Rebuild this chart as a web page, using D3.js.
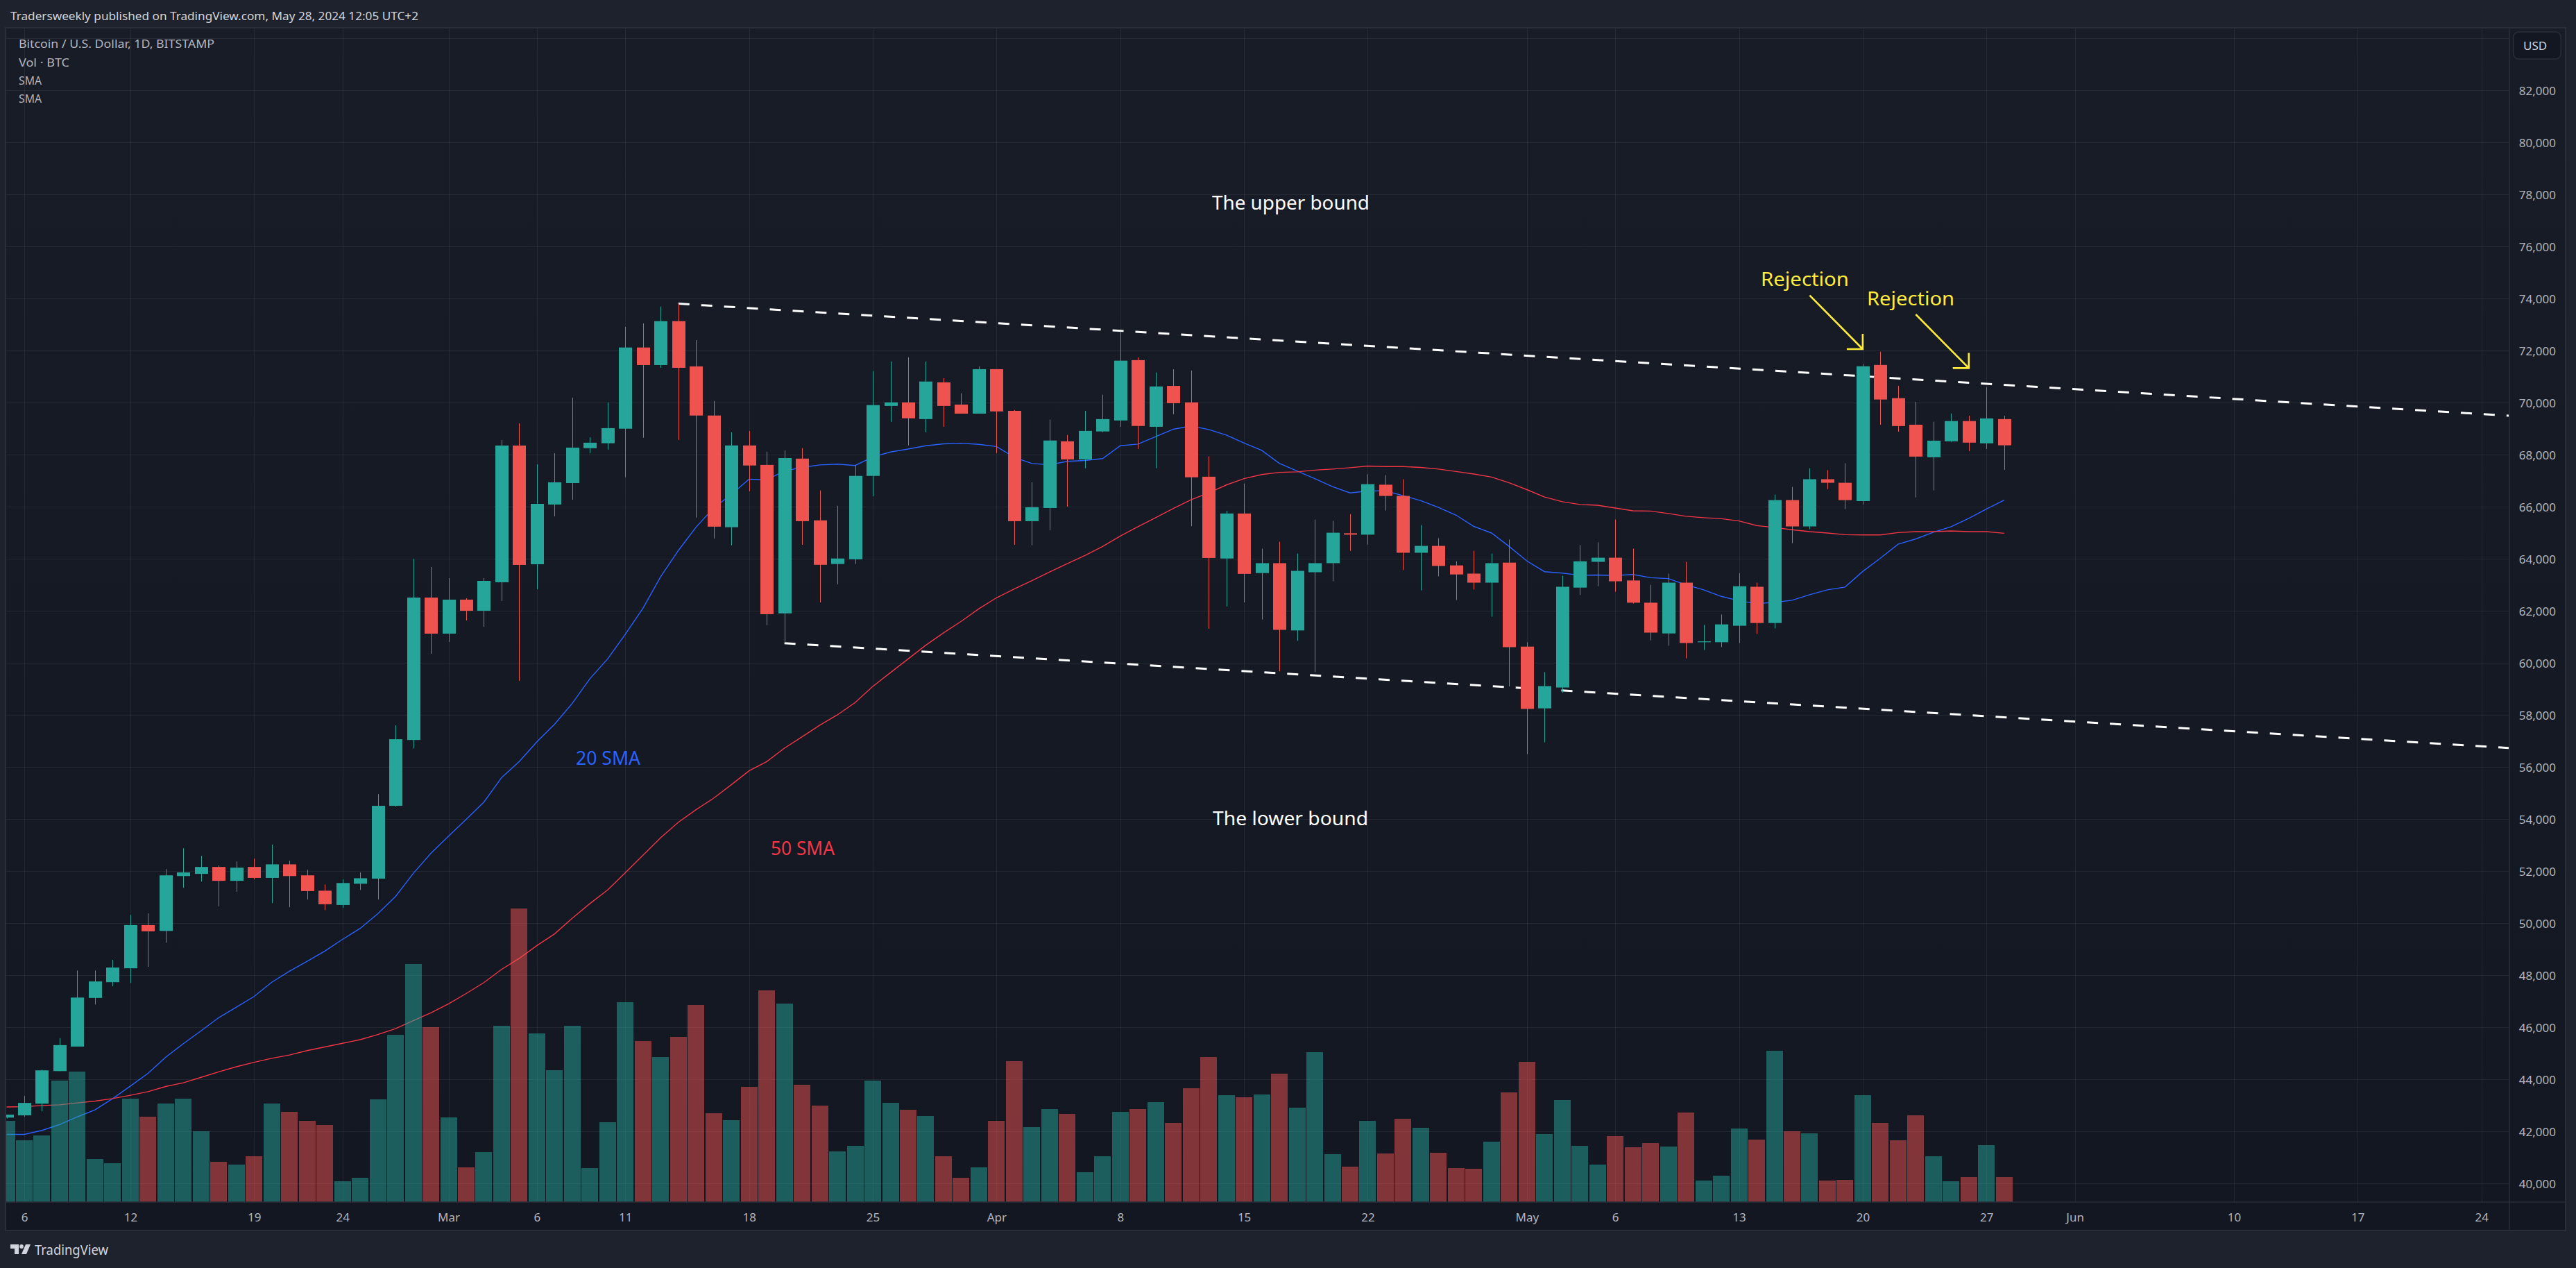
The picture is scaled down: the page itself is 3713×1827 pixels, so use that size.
<!DOCTYPE html>
<html><head><meta charset="utf-8">
<style>html,body{margin:0;padding:0;background:#1e222d}svg{display:block}</style>
<script src="https://cdn.jsdelivr.net/npm/d3@7/dist/d3.min.js"></script>
</head><body><svg id="c" width="3713" height="1827"></svg>
<script>
const dates = ["02-05","02-06","02-07","02-08","02-09","02-10","02-11","02-12","02-13","02-14","02-15","02-16","02-17","02-18","02-19","02-20","02-21","02-22","02-23","02-24","02-25","02-26","02-27","02-28","02-29",
"03-01","03-02","03-03","03-04","03-05","03-06","03-07","03-08","03-09","03-10","03-11","03-12","03-13","03-14","03-15","03-16","03-17","03-18","03-19","03-20","03-21","03-22","03-23","03-24","03-25","03-26","03-27","03-28","03-29","03-30","03-31",
"04-01","04-02","04-03","04-04","04-05","04-06","04-07","04-08","04-09","04-10","04-11","04-12","04-13","04-14","04-15","04-16","04-17","04-18","04-19","04-20","04-21","04-22","04-23","04-24","04-25","04-26","04-27","04-28","04-29","04-30",
"05-01","05-02","05-03","05-04","05-05","05-06","05-07","05-08","05-09","05-10","05-11","05-12","05-13","05-14","05-15","05-16","05-17","05-18","05-19","05-20","05-21","05-22","05-23","05-24","05-25","05-26","05-27","05-28"];
const opens = [42534,42619,43069,44320,45262,47132,47736,48271,49930,49705,51814,51898,52165,51631,52165,51743,52264,51842,51252,50703,51519,51716,54513,57044,62515,
61129,62435,62009,63102,68356,63795,66089,66915,68254,68444,69003,72123,71449,73135,71396,69509,65218,68359,67611,61907,67853,65481,63805,63984,67189,69878,70015,69372,70784,69930,69582,
71290,69688,65450,65956,68518,67822,68897,69319,71638,69076,70647,70015,67158,64016,65745,63456,63836,61252,63488,63836,64985,64932,66851,66419,64236,64500,63751,63435,63087,63857,
60630,58258,59060,62897,63888,64046,63171,62317,61136,63087,60799,60799,61432,62929,61537,66260,65248,67062,66925,66222,71452,70176,69156,67906,68518,69296,68441,69372];
const highs = [42650,43364,44376,45585,48186,48186,48594,50324,50380,52081,52882,52587,52221,52377,52489,53023,52405,52053,51490,51687,51954,54963,57607,64000,63689,
63262,62489,63262,68569,69209,67636,68062,70196,68676,70015,72914,73051,73694,73810,72408,70067,68866,68918,68117,68170,68254,66630,66040,67590,71217,71586,71744,71586,70943,70363,71396,
71290,69720,66947,69351,68760,69688,70310,72735,71744,71164,71290,71238,67938,65850,66894,64394,64658,64205,65512,65459,65723,67251,67220,67062,65301,64795,63909,64310,64205,64742,
60799,59650,63351,64531,64637,65512,64394,63003,63435,63888,61463,61864,63456,63087,66471,66766,67483,67410,67673,71490,71962,70648,70036,69270,69589,69500,70597,69500];
const lows = [42500,42562,42773,44320,45262,46879,47582,47708,48327,49255,51364,51603,50647,51209,51687,50773,50619,50914,50506,50591,51280,50914,54485,56720,60355,
60809,61635,61395,62382,59315,62835,65635,66275,68064,68201,67136,68655,71343,68570,65587,64785,64522,66599,61454,60769,64543,62329,63025,63805,66409,69266,68359,68866,69076,69582,69582,
68064,64543,64522,65102,66008,67484,68866,69076,68222,67484,69561,65259,61317,62171,62329,61674,59682,60852,59650,63140,64310,64552,65860,63572,62792,63329,62423,62823,61780,59102,
56498,56951,58859,62613,62950,62739,62286,60873,60662,60177,60504,60609,60768,61115,61326,64605,65143,66682,65912,66094,69156,68888,66362,66630,68492,68148,68225,67421];
const closes = [42647,43097,44348,45318,47146,47765,48299,49930,49691,51842,51954,52165,51631,52137,51743,52264,51814,51237,50731,51547,51730,54513,57072,62515,61129,
62435,62009,63155,68356,63769,66115,66942,68276,68465,69024,72123,71449,73135,71343,69509,65239,68359,67590,61876,67875,65450,63773,64016,67189,69909,70015,69403,70816,69878,69582,71290,
69667,65450,65987,68549,67822,68918,69372,71617,69108,70626,69983,67136,64037,65745,63425,63836,61274,63540,63836,65006,64932,66872,66419,64236,64500,63730,63403,63087,63836,60609,
58237,59112,62929,63909,64046,63140,62317,61168,63087,60768,60831,61484,62950,61537,66260,65248,67062,66925,66260,71401,70125,69105,67931,68543,69296,68467,69398,68365];
const volumes = [3510,2670,2880,5250,5640,1860,1680,4470,3690,4260,4470,3060,1740,1620,1980,4260,3900,3510,3330,900,1050,4440,7230,10290,7560,
3660,1500,2160,7620,12690,7290,5700,7620,1470,3450,8640,6960,6270,7140,8520,3840,3540,4980,9150,8580,5070,4170,2190,2430,5250,4290,3990,3720,1980,1050,1500,
3510,6090,3240,4020,3810,1290,1980,3900,4020,4320,3420,4920,6270,4620,4530,4650,5550,4080,6480,2070,1530,3510,2100,3600,3210,2130,1470,1440,2610,4740,
6060,2940,4410,2430,1620,2850,2370,2550,2400,3870,930,1140,3180,2700,6540,3060,2970,930,960,4620,3420,2670,3750,1980,900,1080,2460,1080];
const sma20 = [41888,41888,42042,42267,42562,42830,43265,43743,44236,44854,45374,45867,46373,46780,47188,47736,48158,48538,48932,49382,49803,50366,51027,51912,52686,
53346,53993,54654,55596,56215,56974,57649,58450,59398,60157,61106,62107,63320,64322,65218,65956,66483,67063,67042,67379,67516,67611,67643,67590,67917,68107,68222,68349,68423,68444,68402,
68317,67906,67664,67621,67748,67780,67853,68349,68412,68697,68982,69108,68971,68760,68453,68169,67673,67378,67083,66777,66535,66608,66619,66429,66239,65976,65681,65248,64995,64479,
63920,63509,63456,63372,63382,63361,63403,63277,63245,63003,62813,62560,62391,62286,62328,62412,62623,62813,62918,63518,64028,64564,64768,65023,65240,65559,65916,66260];
const sma50 = [42942,42956,42998,43026,43097,43167,43265,43392,43533,43729,43870,44081,44292,44489,44657,44812,44939,45107,45248,45388,45529,45726,45951,46260,46555,
46907,47301,47722,48229,48650,49143,49592,50197,50759,51280,51940,52615,53290,53881,54364,54809,55324,55858,56213,56729,57164,57609,58009,58480,59103,59630,60157,60684,61159,61601,62086,
62508,62846,63162,63499,63815,64132,64480,64880,65239,65587,65935,66272,66536,66841,67084,67241,67325,67346,67410,67452,67504,67568,67547,67547,67515,67452,67357,67262,67146,66925,
66661,66376,66197,66092,66060,65955,65849,65839,65744,65638,65586,65544,65459,65280,65206,65122,65048,64995,64932,64921,64921,65010,65049,65049,65074,65049,65049,64985];
const priceTicks = [40000,42000,44000,46000,48000,50000,52000,54000,56000,58000,60000,62000,64000,66000,68000,70000,72000,74000,76000,78000,80000,82000];
const gridOnlyPrices = [84000];
const timeTickDates = ["02-06","02-12","02-19","02-24","03-01","03-06","03-11","03-18","03-25","04-01","04-08","04-15","04-22","05-01","05-06","05-13","05-20","05-27","06-01","06-10","06-17","06-24"];
const timeTickLabels = ["6","12","19","24","Mar","6","11","18","25","Apr","8","15","22","May","6","13","20","27","Jun","10","17","24"];
const upperBound = [["03-14",73805],["06-25T13",69501]];
const lowerBound = [["03-20",60763],["06-25T13",56736]];
const rejectionArrows = [[["05-17",74125],["05-20",72061]],[["05-23",73395],["05-26",71331]]];

const parse = s => new Date(Date.UTC(2024, +s.slice(0,2)-1, +s.slice(3,5), s.length>5 ? +s.slice(6) : 0));

// layout
const W=3713,H=1827, L=8,T=40,R=3617,RO=3698,B=1732,BO=1773;
const font = "'Noto Sans', 'Open Sans', sans-serif";
const axisFont = "'Noto Sans', sans-serif";
const x = d3.scaleUtc().domain([parse("02-06"),parse("06-24")]).range([35,3576.7]);
const y = d3.scaleLinear().domain([40000,82000]).range([1705.3,130.3]);
const v = d3.scaleLinear().domain([0,13000]).range([B,B-433.33]);
const up="#26a69a", dn="#ef5350";
const rows = dates.map((d,i)=>({t:parse(d),o:opens[i],h:highs[i],l:lows[i],c:closes[i],v:volumes[i]}));
const color = r => r.c>=r.o?up:dn;

const svg=d3.select("#c");
const defs=svg.append("defs");
const g=defs.append("linearGradient").attr("id","pane").attr("gradientUnits","userSpaceOnUse").attr("x1",0).attr("x2",0).attr("y1",T).attr("y2",BO);
g.append("stop").attr("offset",0).attr("stop-color","#181c27");
g.append("stop").attr("offset",1).attr("stop-color","#131722");
defs.append("clipPath").attr("id","plot").append("rect").attr("x",L).attr("y",T).attr("width",R-L).attr("height",B-T);

svg.append("rect").attr("width",W).attr("height",H).attr("fill","#1e222d");
svg.append("rect").attr("x",L).attr("y",T).attr("width",RO-L).attr("height",BO-T).attr("fill","url(#pane)");

// grid via axes
const plot=svg.append("g").attr("clip-path","url(#plot)");
const gridY=plot.append("g").attr("transform",`translate(${L},0)`)
  .call(d3.axisRight(y).tickValues(priceTicks.concat(gridOnlyPrices)).tickSize(R-L).tickFormat(""));
gridY.select(".domain").remove();
const gridX=plot.append("g").attr("transform",`translate(0,${T})`)
  .call(d3.axisBottom(x).tickValues(timeTickDates.map(parse)).tickSize(B-T).tickFormat(""));
gridX.select(".domain").remove();
plot.selectAll(".tick line").attr("stroke","#f0f3fa").attr("stroke-opacity",0.07).attr("stroke-width",1).attr("shape-rendering","crispEdges");

// SMA lines
const line=d3.line().x(d=>x(d[0])).y(d=>y(d[1]));
plot.append("path").attr("d",line(sma20.map((p,i)=>[rows[i].t,p]))).attr("fill","none").attr("stroke","#2962ff").attr("stroke-width",1.4);
plot.append("path").attr("d",line(sma50.map((p,i)=>[rows[i].t,p]))).attr("fill","none").attr("stroke","#f23645").attr("stroke-width",1.4);

// bound lines
[upperBound,lowerBound].forEach(b=>{
  plot.append("path").attr("d",line(b.map(d=>[parse(d[0]),d[1]]))).attr("fill","none")
    .attr("stroke","#ffffff").attr("stroke-width",3).attr("stroke-dasharray","16 17");
});

// volume
plot.append("g").selectAll("rect").data(rows).join("rect")
  .attr("x",r=>x(r.t)-12).attr("width",24).attr("y",r=>v(r.v)).attr("height",r=>B-v(r.v))
  .attr("fill",color).attr("fill-opacity",0.5).attr("shape-rendering","crispEdges");

// candles
const cg=plot.append("g");
cg.selectAll("line").data(rows).join("line")
  .attr("x1",r=>Math.round(x(r.t))+.5).attr("x2",r=>Math.round(x(r.t))+.5)
  .attr("y1",r=>y(r.h)).attr("y2",r=>y(r.l)).attr("stroke",color).attr("stroke-width",1);
cg.selectAll("rect").data(rows).join("rect")
  .attr("x",r=>Math.round(x(r.t))-9).attr("width",19)
  .attr("y",r=>y(Math.max(r.o,r.c))).attr("height",r=>Math.max(1,Math.abs(y(r.o)-y(r.c))))
  .attr("fill",color);

// rejection arrows
rejectionArrows.forEach(a=>{
  const p0=[x(parse(a[0][0])),y(a[0][1])], p1=[x(parse(a[1][0])),y(a[1][1])];
  svg.append("path").attr("d",d3.line()([p0,p1])).attr("stroke","#ffeb3b").attr("stroke-width",2.6).attr("fill","none");
  svg.append("path").attr("d",d3.line()([[p1[0]-23,p1[1]],p1,[p1[0],p1[1]-22]])).attr("stroke","#ffeb3b").attr("stroke-width",2.6).attr("fill","none");
});

// frame
const lineCol="#2a2e39";
svg.append("rect").attr("x",L).attr("y",T).attr("width",RO-L).attr("height",BO-T).attr("fill","none").attr("stroke",lineCol).attr("stroke-width",2);
svg.append("line").attr("x1",R).attr("x2",R).attr("y1",T).attr("y2",BO).attr("stroke",lineCol).attr("stroke-width",1.5);
svg.append("line").attr("x1",L).attr("x2",RO).attr("y1",B).attr("y2",B).attr("stroke",lineCol).attr("stroke-width",1.5);

// axes labels
const ya=svg.append("g").attr("transform",`translate(3684,0)`)
  .call(d3.axisLeft(y).tickValues(priceTicks).tickSize(0).tickPadding(0).tickFormat(d3.format(",")));
ya.select(".domain").remove();
ya.selectAll("text").attr("font-family",axisFont).attr("font-size",17).attr("fill","#b2b5be").attr("text-anchor","end").attr("dy","0.36em");
const xa=svg.append("g").attr("transform",`translate(0,1754)`)
  .call(d3.axisBottom(x).tickValues(timeTickDates.map(parse)).tickSize(0).tickPadding(0).tickFormat((d,i)=>timeTickLabels[i]));
xa.select(".domain").remove();
xa.selectAll("text").attr("font-family",axisFont).attr("font-size",17).attr("fill","#b2b5be").attr("dy","0.36em");

// USD box
svg.append("rect").attr("x",3622.7).attr("y",46).attr("width",68.5).attr("height",39).attr("rx",8).attr("fill","#131722").attr("stroke",lineCol).attr("stroke-width",1.5);
svg.append("text").text("USD").attr("x",3637).attr("y",72).attr("font-family",axisFont).attr("font-size",17).attr("fill","#d1d4dc");

// texts
function txt(s,xp,yb,size,fill,len){
  const t=svg.append("text").text(s).attr("x",xp).attr("y",yb).attr("font-family",font).attr("font-size",size).attr("fill",fill);
  if(len) t.attr("textLength",len).attr("lengthAdjust","spacingAndGlyphs");
  return t;
}
txt("Tradersweekly published on TradingView.com, May 28, 2024 12:05 UTC+2",15,29,17,"#d1d4dc",588);
txt("Bitcoin / U.S. Dollar, 1D, BITSTAMP",27,69,17,"#b2b5be",282);
txt("Vol · BTC",27,96,17,"#b2b5be",73);
txt("SMA",27,122,17,"#b2b5be",33);
txt("SMA",27,148,17,"#b2b5be",33);
txt("The upper bound",1747,302,28,"#ffffff",227);
txt("The lower bound",1748,1189,28,"#ffffff",224);
txt("20 SMA",830,1102,28,"#2962ff",93);
txt("50 SMA",1111,1232,28,"#f23645",92);
txt("Rejection",2538,412,28,"#ffeb3b",127);
txt("Rejection",2691,440,28,"#ffeb3b",126);
txt("TradingView",50,1808,20,"#d1d4dc",106);

// TradingView mark
const mark=svg.append("g").attr("fill","#d1d4dc");
mark.append("path").attr("d","M15 1793h12v14h-6v-8h-6z");
mark.append("circle").attr("cx",31).attr("cy",1796).attr("r",2.9);
mark.append("path").attr("d","M37 1793h7l-6 14h-7z");
</script></body></html>
